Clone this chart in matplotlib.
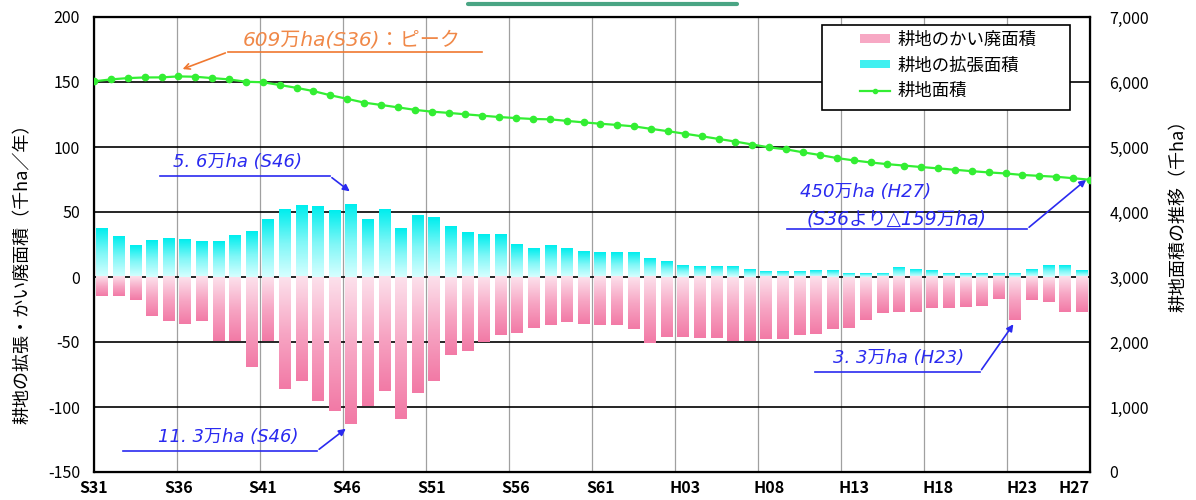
import numpy as np
import matplotlib
matplotlib.use('Agg')
import matplotlib.pyplot as plt
from matplotlib.colors import LinearSegmentedColormap
from matplotlib.patches import Patch, Rectangle
from matplotlib.lines import Line2D

plt.rcParams['font.family'] = ['Noto Sans CJK JP', 'DejaVu Sans']
plt.rcParams['axes.unicode_minus'] = False

# S31 (1956) .. H27 (2015)
tick_names = ['S31', 'S36', 'S41', 'S46', 'S51', 'S56', 'S61', 'H03', 'H08', 'H13', 'H18', 'H23', 'H27']
tick_idx = [0, 5, 10, 15, 20, 25, 30, 35, 40, 45, 50, 55, 59]

# 耕地の拡張面積 (千ha/年)
expand = [37, 31, 24, 28, 30, 29, 27, 27, 32, 35,
          44, 52, 55, 54, 51, 56, 44, 52, 37, 47,
          46, 39, 34, 33, 33, 25, 22, 24, 22, 20,
          19, 19, 19, 14, 12, 9, 8, 8, 8, 6,
          4, 4, 4, 5, 5, 3, 3, 3, 7, 6,
          5, 3, 3, 3, 3, 3, 6, 9, 9, 5]
# 耕地のかい廃面積 (千ha/年)
abandon = [15, 15, 18, 30, 34, 36, 34, 49, 49, 69,
           49, 86, 80, 95, 103, 113, 99, 88, 109, 89,
           80, 60, 57, 50, 45, 43, 39, 37, 35, 36,
           37, 37, 40, 51, 46, 46, 47, 47, 49, 49,
           48, 48, 45, 44, 40, 39, 33, 28, 27, 27,
           24, 24, 23, 22, 17, 33, 18, 19, 27, 27]
# 耕地面積 (千ha)
area = [6010, 6040, 6060, 6070, 6071, 6086, 6081, 6060, 6040, 6004,
        5996, 5954, 5910, 5860, 5796, 5741, 5683, 5647, 5610, 5572,
        5544, 5525, 5503, 5482, 5461, 5445, 5431, 5426, 5402, 5379,
        5358, 5339, 5317, 5279, 5243, 5204, 5165, 5124, 5083, 5038,
        4994, 4964, 4918, 4877, 4830, 4794, 4762, 4736, 4714, 4692,
        4671, 4650, 4628, 4609, 4593, 4570, 4556, 4542, 4520, 4496]

n = len(area)
xb = np.arange(n) + 0.5                 # bars: centred in 60 slots
xl = np.arange(n) * n / (n - 1.0)       # line: first/last point on the frame

fig = plt.figure(figsize=(11.96, 5.0), dpi=100)
ax = fig.add_axes([94/1196, 28/500, 996/1196, 455/500])
ax2 = ax.twinx()

cyan = LinearSegmentedColormap.from_list('c', ['#d6ffff', '#7ff7f7', '#00eeee'])
pink = LinearSegmentedColormap.from_list('p', ['#f27aa6', '#f7a6c4', '#fce0eb'])
grad = np.linspace(0, 1, 64).reshape(-1, 1)
w = 0.36
for i in range(n):
    ax.imshow(grad, extent=[xb[i]-w, xb[i]+w, 0, expand[i]], origin='lower',
              aspect='auto', cmap=cyan, interpolation='bilinear', zorder=2)
    ax.imshow(grad, extent=[xb[i]-w, xb[i]+w, -abandon[i], 0], origin='lower',
              aspect='auto', cmap=pink, interpolation='bilinear', zorder=2)

ax.set_xlim(0, n)
ax.set_ylim(-150, 200)
ax.set_yticks(range(-150, 201, 50))
for v in range(-100, 200, 50):
    ax.axhline(v, color='black', lw=1.2, zorder=1.5)
for k in range(5, n, 5):
    ax.axvline(k, color='#a0a0a0', lw=0.9, zorder=1)
ax.set_xticks(xl[tick_idx])
ax.set_xticklabels(tick_names, fontsize=11, fontweight='bold')
ax.xaxis.get_ticklabels()[-1].set_horizontalalignment('right')
ax.tick_params(axis='both', length=0, labelsize=11.5)
ax.tick_params(axis='x', pad=6)
ax.tick_params(axis='y', pad=10)
ax.set_ylabel('耕地の拡張・かい廃面積（千ha／年）', fontsize=13)
ax.yaxis.set_label_coords(-0.062, 0.446)
for s in ax.spines.values():
    s.set_linewidth(1.6)

ax2.plot(xl, area, color='#33ee33', lw=1.6, marker='o', markersize=4.5, zorder=3)
ax2.set_ylim(0, 7000)
ax2.set_yticks(range(0, 7001, 1000))
ax2.set_yticklabels(['{:,}'.format(v) for v in range(0, 7001, 1000)])
ax2.tick_params(axis='y', length=0, labelsize=11.5, pad=14)
ax2.set_ylabel('耕地面積の推移（千ha）', fontsize=13)
ax2.yaxis.set_label_coords(1.08, 0.573)
ax2.set_xlim(0, n)

# annotations
it = dict(style='italic', family=['DejaVu Sans', 'Noto Sans CJK JP'])
blue = '#2a2af0'
orange = '#f07830'

ax.plot([8.07, 23.4], [173.1, 173.1], color=orange, lw=1.2, zorder=4)
ax.annotate('', xy=(5.18, 159.2), xytext=(8.07, 173.1),
            arrowprops=dict(arrowstyle='->', color=orange, lw=1.2), zorder=4)
ax.text(8.98, 182.5, '609万ha(S36)：ピーク', color='#f08848', fontsize=14.5, va='center', **it)

def note(x0, x1, y, tip, label, ly, lx):
    ax.plot([x0, x1], [y, y], color=blue, lw=1.2, zorder=4)
    ax.annotate('', xy=tip, xytext=(x1, y),
                arrowprops=dict(arrowstyle='-|>', color=blue, lw=1.2,
                                mutation_scale=10), zorder=4)
    ax.text(lx, ly, label, color=blue, fontsize=13, va='center', zorder=4, **it)

note(3.98, 14.2, 77.7, (15.54, 64.6), '5. 6万ha (S46)', 88.5, 4.76)
note(1.75, 13.43, -133.8, (15.3, -115.4), '11. 3万ha (S46)', -123, 3.86)
note(43.43, 53.37, -73, (55.48, -34.6), '3. 3万ha (H23)', -62.3, 44.5)
note(41.75, 56.2, 36.9, (59.9, 76.2), '450万ha (H27)', 65.4, 42.5)
ax.text(42.9, 44.6, '(S36より△159万ha)', color=blue, fontsize=13.5, va='center', zorder=4, **it)

# legend: frame drawn separately to get the wide side margins
ax2.add_patch(Rectangle((0.731, 0.7956), 0.249, 0.1864, transform=ax2.transAxes,
                        facecolor='white', edgecolor='black', lw=1.2, zorder=4.5))
handles = [Patch(facecolor='#f7a8c4', edgecolor='none'),
           Patch(facecolor='#40f0f0', edgecolor='none'),
           Line2D([], [], color='#33ee33', lw=1.6, marker='o', markersize=3)]
leg = ax2.legend(handles, ['耕地のかい廃面積', '耕地の拡張面積', '耕地面積'],
                 loc='upper left', bbox_to_anchor=(0.769, 0.97), fontsize=12.5,
                 frameon=False, borderpad=0, borderaxespad=0,
                 handlelength=1.75, handleheight=0.35, handletextpad=0.4,
                 labelspacing=0.45)
leg.set_zorder(6)

fig.add_artist(Line2D([468/1196, 737/1196], [1 - 4/500, 1 - 4/500],
                      color='#4aa584', lw=3, solid_capstyle='round'))

fig.savefig('out.png', dpi=100)
